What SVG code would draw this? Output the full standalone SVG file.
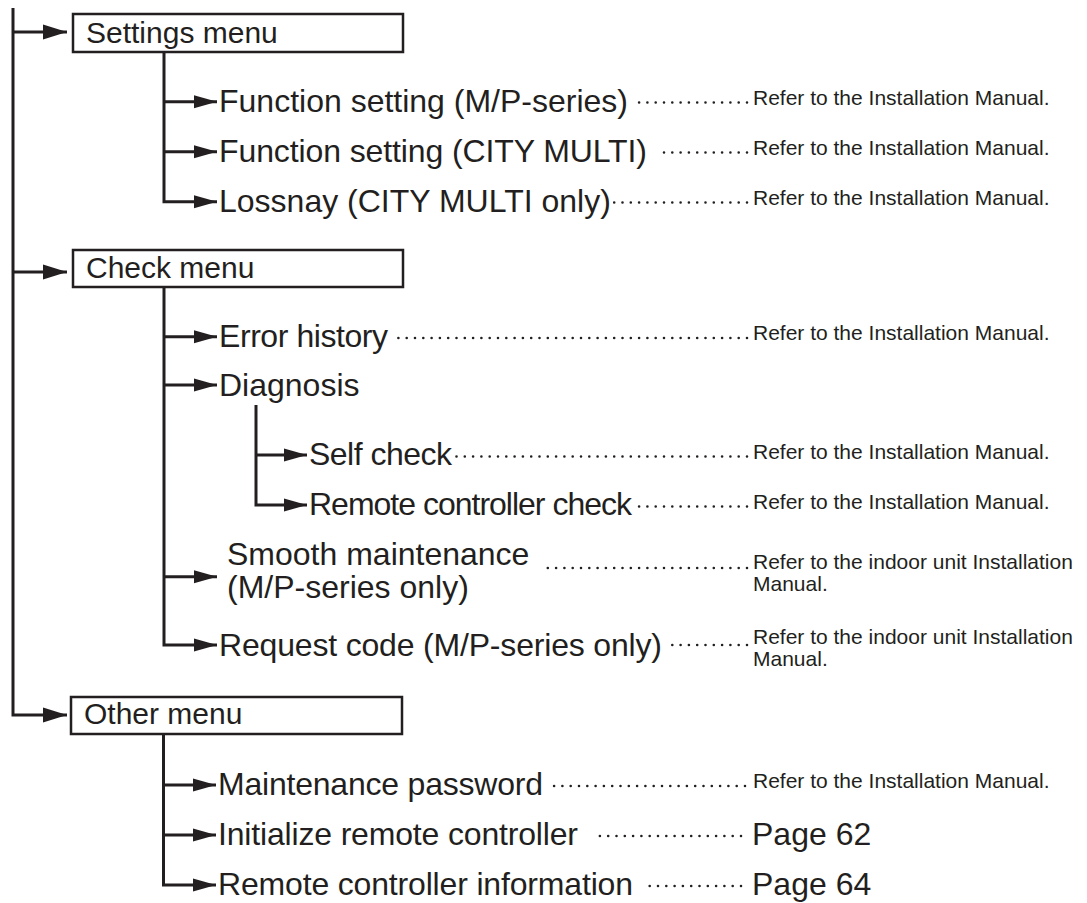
<svg xmlns="http://www.w3.org/2000/svg" width="1087" height="903" viewBox="0 0 1087 903">
<style>
.ln{fill:none;stroke:#231f20;stroke-width:3}
.bx{fill:#fff;stroke:#231f20;stroke-width:2.5}
.dt{fill:none;stroke:#231f20;stroke-width:2.6;stroke-dasharray:0 8.3;stroke-linecap:round}
text{font-family:"Liberation Sans",Arial,sans-serif;fill:#231f20}
.h{font-size:30px}
.t{font-size:32px}
.s{font-size:21px}
</style>
<defs>
<marker id="am" markerUnits="userSpaceOnUse" markerWidth="24" markerHeight="16" refX="24" refY="7.5" orient="auto" viewBox="0 0 24 15">
<path d="M0,0 L24,7.5 L0,15 z" fill="#231f20"/>
</marker>
<marker id="as" markerUnits="userSpaceOnUse" markerWidth="23" markerHeight="14" refX="23" refY="6.5" orient="auto" viewBox="0 0 23 13">
<path d="M0,0 L23,6.5 L0,13 z" fill="#231f20"/>
</marker>
</defs>
<g id="connectors">
<path class="ln" d="M13,8 V715 H67" marker-end="url(#am)"/>
<path class="ln" d="M13,32 H67" marker-end="url(#am)"/>
<path class="ln" d="M13,272 H67" marker-end="url(#am)"/>
<path class="ln" d="M164,52 V201.7 H217" marker-end="url(#as)"/>
<path class="ln" d="M164,101.7 H217" marker-end="url(#as)"/>
<path class="ln" d="M164,151.7 H217" marker-end="url(#as)"/>
<path class="ln" d="M164,287 V645 H217" marker-end="url(#as)"/>
<path class="ln" d="M164,336.7 H217" marker-end="url(#as)"/>
<path class="ln" d="M164,385 H217" marker-end="url(#as)"/>
<path class="ln" d="M164,576.7 H217" marker-end="url(#as)"/>
<path class="ln" d="M256,405 V505 H307" marker-end="url(#as)"/>
<path class="ln" d="M256,455 H307" marker-end="url(#as)"/>
<path class="ln" d="M163.5,734 V885 H216" marker-end="url(#as)"/>
<path class="ln" d="M163.5,785 H216" marker-end="url(#as)"/>
<path class="ln" d="M163.5,835 H216" marker-end="url(#as)"/>
<path class="dt" d="M747,102.5 H631"/>
<path class="dt" d="M747,152.5 H657"/>
<path class="dt" d="M747,202.5 H613"/>
<path class="dt" d="M747,338 H397"/>
<path class="dt" d="M747,456.5 H452"/>
<path class="dt" d="M747,506.5 H637"/>
<path class="dt" d="M747,568 H540"/>
<path class="dt" d="M747,645 H665"/>
<path class="dt" d="M745,786 H548"/>
<path class="dt" d="M741,836 H594"/>
<path class="dt" d="M741,886 H645"/>
</g>
<g id="settings-menu">
<rect class="bx" x="73" y="14" width="330" height="38"/>
<text class="h" x="86" y="42.5">Settings menu</text>
</g>
<g id="function-setting-mp">
<text class="t" x="219" y="112">Function setting (M/P-series)</text>
<text class="s" x="753" y="105">Refer to the Installation Manual.</text>
</g>
<g id="function-setting-cm">
<text class="t" x="219" y="162" textLength="428">Function setting (CITY MULTI)</text>
<text class="s" x="753" y="155">Refer to the Installation Manual.</text>
</g>
<g id="lossnay">
<text class="t" x="219" y="212">Lossnay (CITY MULTI only)</text>
<text class="s" x="753" y="205">Refer to the Installation Manual.</text>
</g>
<g id="check-menu">
<rect class="bx" x="73" y="250" width="330" height="37"/>
<text class="h" x="86" y="278">Check menu</text>
</g>
<g id="error-history">
<text class="t" x="219" y="347" textLength="169">Error history</text>
<text class="s" x="753" y="340">Refer to the Installation Manual.</text>
</g>
<g id="diagnosis">
<text class="t" x="219" y="395.5">Diagnosis</text>
</g>
<g id="self-check">
<text class="t" x="309" y="464.5" textLength="143">Self check</text>
<text class="s" x="753" y="458.5">Refer to the Installation Manual.</text>
</g>
<g id="remote-controller-check">
<text class="t" x="309" y="514.5" textLength="323">Remote controller check</text>
<text class="s" x="753" y="508.5">Refer to the Installation Manual.</text>
</g>
<g id="smooth-maintenance">
<text class="t" x="227" y="565">Smooth maintenance</text>
<text class="t" x="227" y="598">(M/P-series only)</text>
<text class="s" x="753" y="569">Refer to the indoor unit Installation</text>
<text class="s" x="753" y="591">Manual.</text>
</g>
<g id="request-code">
<text class="t" x="219" y="656" textLength="443">Request code (M/P-series only)</text>
<text class="s" x="753" y="644">Refer to the indoor unit Installation</text>
<text class="s" x="753" y="666">Manual.</text>
</g>
<g id="other-menu">
<rect class="bx" x="71" y="697" width="331" height="37"/>
<text class="h" x="84" y="724">Other menu</text>
</g>
<g id="maintenance-password">
<text class="t" x="218" y="794.5" textLength="325">Maintenance password</text>
<text class="s" x="753" y="788">Refer to the Installation Manual.</text>
</g>
<g id="initialize-remote-controller">
<text class="t" x="218" y="844.5" textLength="360">Initialize remote controller</text>
<text class="t" x="752" y="845">Page 62</text>
</g>
<g id="remote-controller-information">
<text class="t" x="218" y="894.5" textLength="415">Remote controller information</text>
<text class="t" x="752" y="895">Page 64</text>
</g>
</svg>
